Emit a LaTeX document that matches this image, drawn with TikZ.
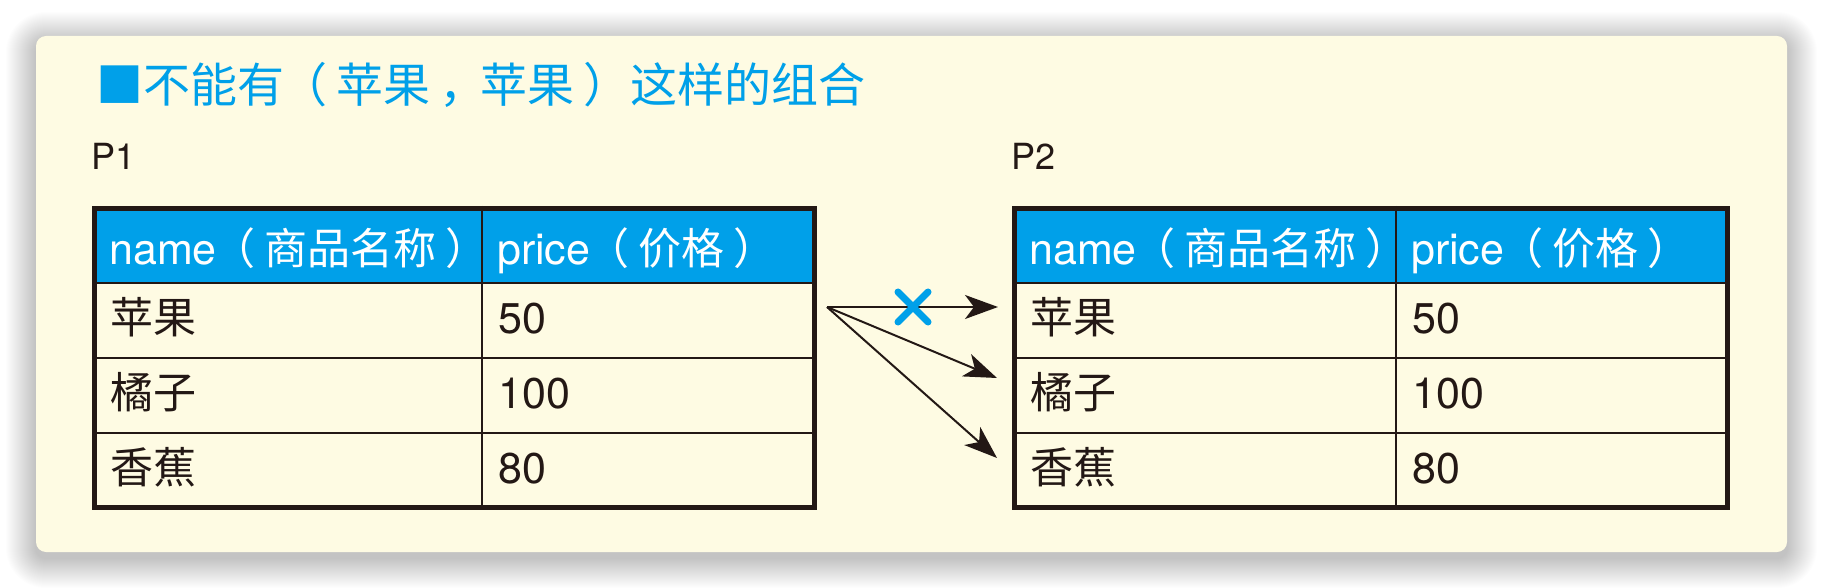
\documentclass[tikz,border=0pt]{standalone}
\usepackage{fontspec}
\setmainfont{TeX Gyre Heros}
\newfontfamily\cjk{Noto Sans CJK SC}
\usepackage{tikz}
\usetikzlibrary{arrows.meta}
\definecolor{boxblue}{HTML}{00A0E9}
\definecolor{paper}{HTML}{FEFBE3}
\definecolor{ink}{HTML}{231815}
% full-width brackets with some air inside
\newcommand{\opn}{\kern-4pt{\cjk（}\kern9pt}
\newcommand{\cls}{\kern9pt{\cjk）}}

\begin{document}
\begin{tikzpicture}[x=1pt,y=-1pt,
  panel/.style={fill=paper,rounded corners=10pt},
  haze/.style={fill=black,opacity=0.0065},
  frame/.style={draw=ink,line width=5pt},
  rule/.style={draw=ink,line width=2pt},
  cell/.style={anchor=base west,inner sep=0pt,font=\fontsize{43}{50}\selectfont,text=ink},
  head/.style={cell,text=white},
  tag/.style={cell,font=\fontsize{36}{42}\selectfont},
  link/.style={draw=ink,line width=2pt,-{Stealth[length=33pt,width=24pt,inset=9pt]}},
  nope/.style={draw=boxblue,line width=7pt,line cap=round}]

\useasboundingbox (0,0) rectangle (1824,588);
\fill[white] (0,0) rectangle (1824,588);
% soft shadow under the panel
\foreach \s [evaluate=\s as \rr using 10+\s] in {1,...,30}
  \path[haze,rounded corners=\rr pt] (36-\s,42-\s) rectangle (1787+\s,558+\s);
\path[panel] (36,36) rectangle (1787,552);

\node[anchor=base west,inner sep=0pt,text=boxblue,font=\fontsize{47}{56}\selectfont\cjk] (title) at (96,103)
  {■不能有\opn 苹果\kern9pt，\kern-6pt 苹果\cls 这样的组合};

% the two tables
\foreach \t/\xa/\xb/\xc/\lab in {p1/92/482/817/P1, p2/1012/1396/1730/P2} {
  \node[tag] (\t-label) at (\xa-1,170) {\lab};
  \fill[boxblue] (\xa,206) rectangle (\xc,283);
  \draw[rule] (\xb,206) -- (\xb,510);
  \foreach \y in {283,358,433}
    \draw[rule] (\xa,\y) -- (\xc,\y);
  \draw[frame] (\xa+2.5,208.5) rectangle (\xc-2.5,507.5);
  \node[head] (\t-name) at (\xa+17,265) {name\opn{\cjk 商品名称}\cls};
  \node[head] (\t-price) at (\xb+15,265) {price\opn{\cjk 价格}\cls};
  \foreach \i/\fruit/\cost/\yb in {1/苹果/50/333, 2/橘子/100/408, 3/香蕉/80/483} {
    \node[cell] (\t-fruit\i) at (\xa+18,\yb) {\cjk\fruit};
    \node[cell] (\t-cost\i) at (\xb+16,\yb) {\cost};
  }
}

% where the rows meet
\coordinate (out) at (827,307);
\coordinate (in1) at (998,307);
\coordinate (in2) at (997,378);
\coordinate (in3) at (997,458);
\foreach \k in {1,2,3}
  \draw[link] (out) -- (in\k);

\coordinate (cross) at (913,307);
\draw[nope] ([shift={(-15,-15)}]cross) -- ([shift={(15,15)}]cross)
            ([shift={(-15,15)}]cross) -- ([shift={(15,-15)}]cross);
\end{tikzpicture}
\end{document}
